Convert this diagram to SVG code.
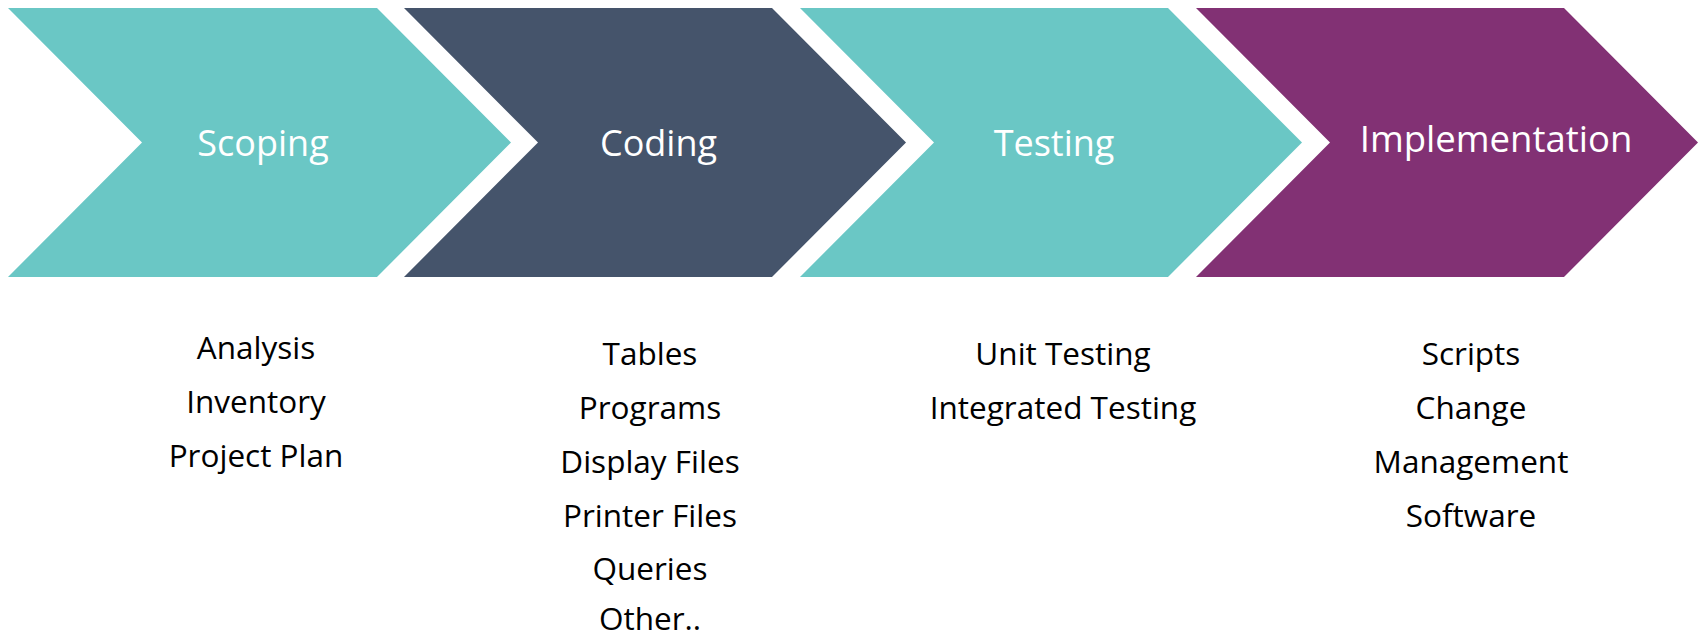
<svg xmlns="http://www.w3.org/2000/svg" width="1703" height="638" viewBox="0 0 1703 638">
<style>
.teal{fill:#6AC7C5}
.slate{fill:#45546B}
.plum{fill:#823174}
.title{font-family:"Open Sans","Liberation Sans",sans-serif;font-size:36px;fill:#FFFFFF;text-anchor:middle}
.item{font-family:"Open Sans","Liberation Sans",sans-serif;font-size:31.5px;fill:#000000;text-anchor:middle}
</style>
<rect width="1703" height="638" fill="#FFFFFF"/>
<g id="scoping">
<polygon class="teal" points="8,8 377,8 511,142.5 377,277 8,277 142,142.5"/>
<text class="title" x="263" y="156">Scoping</text>
</g>
<g id="coding">
<polygon class="slate" points="404,8 772,8 906,142.5 772,277 404,277 538,142.5"/>
<text class="title" x="658.5" y="156">Coding</text>
</g>
<g id="testing">
<polygon class="teal" points="800,8 1168,8 1302,142.5 1168,277 800,277 934,142.5"/>
<text class="title" x="1054" y="156">Testing</text>
</g>
<g id="implementation">
<polygon class="plum" points="1196,8 1564,8 1698,142.5 1564,277 1196,277 1330,142.5"/>
<text class="title" x="1496" y="152" style="font-size:36.5px">Implementation</text>
</g>
<g id="scoping-items">
<text class="item" x="256" y="359">Analysis</text>
<text class="item" x="256" y="413">Inventory</text>
<text class="item" x="256" y="467">Project Plan</text>
</g>
<g id="coding-items">
<text class="item" x="650" y="365">Tables</text>
<text class="item" x="650" y="419">Programs</text>
<text class="item" x="650" y="473">Display Files</text>
<text class="item" x="650" y="527">Printer Files</text>
<text class="item" x="650" y="580">Queries</text>
<text class="item" x="650" y="630">Other..</text>
</g>
<g id="testing-items">
<text class="item" x="1063" y="365">Unit Testing</text>
<text class="item" x="1063" y="419">Integrated Testing</text>
</g>
<g id="implementation-items">
<text class="item" x="1471" y="365">Scripts</text>
<text class="item" x="1471" y="419">Change</text>
<text class="item" x="1471" y="473">Management</text>
<text class="item" x="1471" y="527">Software</text>
</g>
<g id="connectors"></g>
</svg>
